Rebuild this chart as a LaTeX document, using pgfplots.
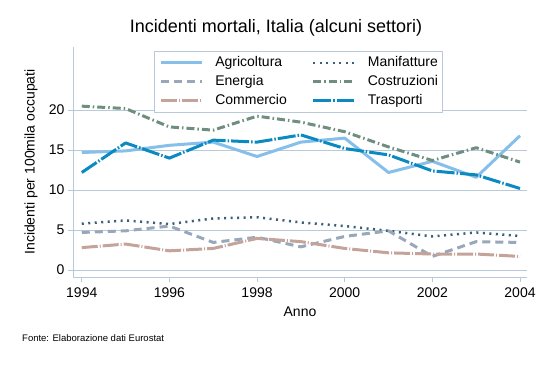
\documentclass[border=0pt]{standalone}
\usepackage{pgfplots}
\pgfplotsset{compat=1.18}
\usepackage{fontspec}
\setmainfont{Liberation Sans}
\definecolor{axiscol}{HTML}{B8C9D9}
\definecolor{cAgr}{HTML}{86BFE9}
\definecolor{cMan}{HTML}{3A5F78}
\definecolor{cEne}{HTML}{98A8BA}
\definecolor{cCos}{HTML}{6F8E80}
\definecolor{cCom}{HTML}{C4A39A}
\definecolor{cTra}{HTML}{0A8AC0}
\begin{document}
\begin{tikzpicture}[x=1bp,y=1bp]
\path[use as bounding box] (0,0) rectangle (542,366);
\node[anchor=base,inner sep=0pt,font=\fontsize{18bp}{20bp}\selectfont] at (276,333.5) {Incidenti mortali, Italia (alcuni settori)};
\node[anchor=base west,inner sep=0pt,font=\fontsize{9.5bp}{11bp}\selectfont] at (22,25) {Fonte: Elaborazione dati Eurostat};
\begin{axis}[
  at={(73bp,89bp)}, anchor=south west, scale only axis,
  width=454bp, height=230bp,
  xmin=1993.8, xmax=2004.16, ymin=-0.875, ymax=27.9,
  axis x line*=bottom, axis y line*=left,
  axis line style={color=axiscol, line width=1bp},
  xtick={1994,1996,...,2004}, ytick={0,5,...,20},
  tick align=outside, major tick length=5bp,
  tick style={color=axiscol, line width=1bp},
  ymajorgrids, major grid style={color=axiscol, line width=1bp},
  /pgf/number format/assume math mode=true,
  /pgf/number format/1000 sep={},
  ticklabel style={font=\fontsize{14bp}{16bp}\selectfont, text=black},
  xticklabel style={yshift=-2.5bp},
  xlabel={Anno}, ylabel={Incidenti per 100mila occupati},
  label style={font=\fontsize{14bp}{16bp}\selectfont},
  xlabel style={at={(axis description cs:0.5,0)}, anchor=base, yshift=-39bp},
  ylabel style={at={(axis description cs:-0.0925,0.5)}, anchor=center},
  legend columns=2,
  legend cell align=left,
  legend style={at={(0.178,0.983)}, anchor=north west, draw=axiscol, line width=1bp,
    font=\fontsize{14bp}{16bp}\selectfont, inner xsep=5bp, inner ysep=5bp,
    row sep=6bp,
    nodes={inner sep=0pt, text height=10bp, text depth=3bp},
    /tikz/every odd column/.style={column sep=12bp},
    /tikz/every even column/.style={column sep=25bp}},
  legend image code/.code={\draw[#1] (0bp,0bp) -- (41bp,0bp);},
  line join=round,
]
\addplot[cAgr, line width=3bp] coordinates {
(1994,14.7) (1995,14.9) (1996,15.6) (1997,16.0) (1998,14.2) (1999,16.0) (2000,16.5) (2001,12.2) (2002,13.6) (2003,11.6) (2004,16.8)};
\addlegendentry{Agricoltura}
\addplot[cMan, line width=2.5bp, dash pattern=on 2bp off 4.5bp] coordinates {
(1994,5.8) (1995,6.2) (1996,5.75) (1997,6.45) (1998,6.6) (1999,5.95) (2000,5.5) (2001,4.9) (2002,4.2) (2003,4.7) (2004,4.25)};
\addlegendentry{Manifatture}
\addplot[cEne, line width=3bp, dash pattern=on 8bp off 5bp] coordinates {
(1994,4.7) (1995,4.9) (1996,5.5) (1997,3.45) (1998,4.1) (1999,2.9) (2000,4.2) (2001,4.9) (2002,1.7) (2003,3.55) (2004,3.45)};
\addlegendentry{Energia}
\addplot[cCos, line width=3bp, dash pattern=on 8bp off 3bp on 1.5bp off 3bp] coordinates {
(1994,20.5) (1995,20.2) (1996,17.9) (1997,17.5) (1998,19.25) (1999,18.5) (2000,17.3) (2001,15.4) (2002,13.7) (2003,15.3) (2004,13.5)};
\addlegendentry{Costruzioni}
\addplot[cCom, line width=3bp, dash pattern=on 16bp off 2bp on 1bp off 2bp] coordinates {
(1994,2.8) (1995,3.25) (1996,2.4) (1997,2.7) (1998,3.95) (1999,3.55) (2000,2.7) (2001,2.15) (2002,2.0) (2003,2.0) (2004,1.7)};
\addlegendentry{Commercio}
\addplot[cTra, line width=3bp, dash pattern=on 18bp off 2bp on 1.5bp off 2bp] coordinates {
(1994,12.2) (1995,15.9) (1996,14.0) (1997,16.25) (1998,16.0) (1999,16.9) (2000,15.2) (2001,14.4) (2002,12.4) (2003,11.9) (2004,10.2)};
\addlegendentry{Trasporti}
\end{axis}
\end{tikzpicture}
\end{document}
